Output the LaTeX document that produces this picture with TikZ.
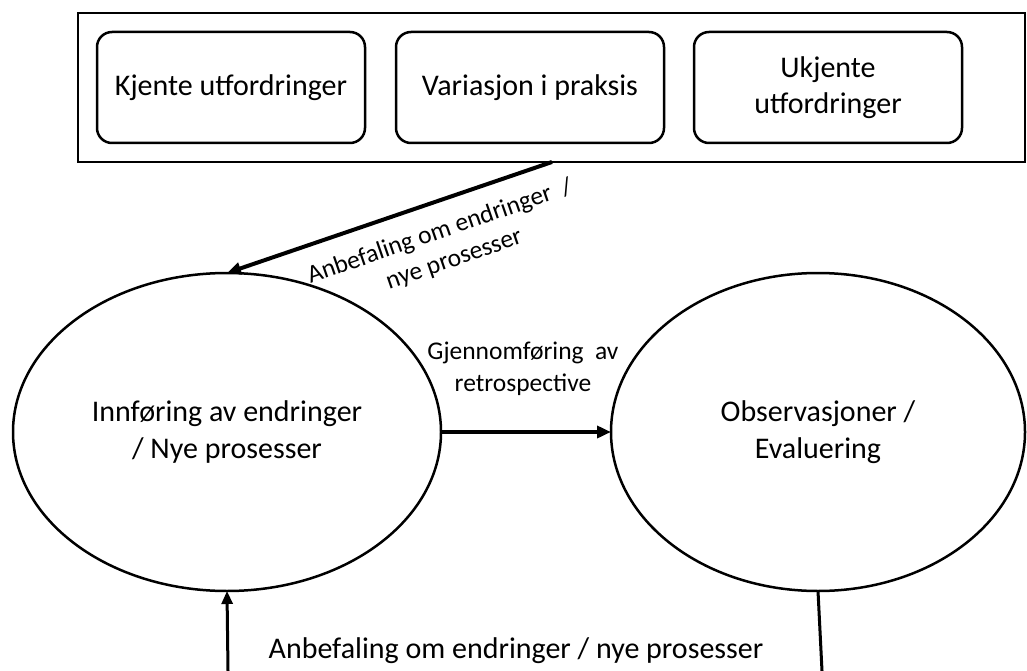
\documentclass[tikz,border=0pt]{standalone}
\usepackage{fontspec}
\setmainfont{Carlito}
\usetikzlibrary{shapes.geometric,arrows.meta}
\begin{document}
\begin{tikzpicture}[x=1pt,y=-1pt,
  every node/.style={inner sep=0pt,outer sep=0pt},
  frame/.style={draw,line width=2.5pt},
  box/.style={draw,line width=2.5pt,rounded corners=15pt,minimum width=268pt,minimum height=111pt,align=center,font=\fontsize{30}{36}\selectfont},
  oval/.style={draw,ellipse,line width=2.5pt,align=center,font=\fontsize{30}{37}\selectfont},
  lbl/.style={align=center,font=\fontsize{25.5}{32}\selectfont},
  biglbl/.style={align=center,font=\fontsize{30}{36}\selectfont},
  thick arrow/.style={line width=4pt,-{Triangle[length=14pt,width=12pt]}},
  thin arrow/.style={line width=3pt,-{Triangle[length=13pt,width=11pt]}},
  plain line/.style={line width=3pt}
]
\useasboundingbox (0,0) rectangle (1027,671);
\node[frame,minimum width=947pt,minimum height=149pt] (top) at (551.5,87.5) {};
\node[box] (k) at (231,87.5) {Kjente utfordringer};
\node[box] (v) at (530,87.5) {Variasjon i praksis};
\node[box] (u) at (828,87.5) {Ukjente\\utfordringer};
\node[oval,minimum width=428pt,minimum height=318pt] (inn) at (227,432) {Innføring av endringer\\/ Nye prosesser};
\node[oval,minimum width=414pt,minimum height=318pt] (obs) at (818,432) {Observasjoner /\\Evaluering};
\coordinate (s) at (552,162);
\draw[thick arrow] (s) -- (inn.north);
\node[lbl,rotate=19] (l1a) at (440,232) {Anbefaling om endringer \ /};
\node[lbl,rotate=19] (l1b) at (455,262) {nye prosesser};
\draw[thick arrow] (inn.east) -- (obs.west);
\node[lbl] (l2) at (523,369) {Gjennomføring \ av\\retrospective};
\coordinate (bl) at (228,671);
\coordinate (br) at (822,671);
\draw[thin arrow] (bl) -- (inn.south);
\draw[plain line] (obs.south) -- (br);
\node[biglbl] (l3) at (516,651) {Anbefaling om endringer / nye prosesser};
\end{tikzpicture}
\end{document}
